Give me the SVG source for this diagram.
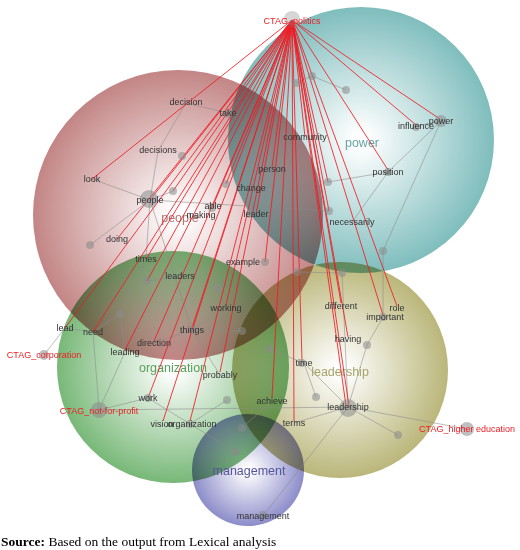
<svg xmlns="http://www.w3.org/2000/svg" width="520" height="550" viewBox="0 0 520 550">
<defs>
<radialGradient id="gPow"><stop offset="0.05" stop-color="#ffffff"/><stop offset="1" stop-color="#7fbdbd"/></radialGradient>
<radialGradient id="gPeo"><stop offset="0.05" stop-color="#ffffff"/><stop offset="1" stop-color="#c38585"/></radialGradient>
<radialGradient id="gOrg"><stop offset="0.05" stop-color="#ffffff"/><stop offset="1" stop-color="#78b878"/></radialGradient>
<radialGradient id="gLea"><stop offset="0.05" stop-color="#ffffff"/><stop offset="1" stop-color="#bab67a"/></radialGradient>
<radialGradient id="gMan"><stop offset="0.05" stop-color="#ffffff"/><stop offset="1" stop-color="#8c8cca"/></radialGradient>
<style>
.cl{mix-blend-mode:multiply}
.g line{stroke:#8a8a8a;stroke-width:0.8;stroke-opacity:0.7}
.r line{stroke:#ee1c24;stroke-width:1;stroke-opacity:0.85}
.d{fill:#8a8a8a;fill-opacity:0.55}
.t{font-family:"Liberation Sans",Arial,sans-serif;font-size:9px;fill:#333;text-anchor:middle}
.c{font-family:"Liberation Sans",Arial,sans-serif;font-size:9px;fill:#ee1c24;text-anchor:middle}
.k{font-family:"Liberation Sans",Arial,sans-serif;font-size:12.5px;text-anchor:middle}
</style>
</defs>
<rect width="520" height="550" fill="#fff"/>
<g id="clusters">
<circle class="cl" cx="361" cy="140" r="133" fill="url(#gPow)"/>
<circle class="cl" cx="178" cy="215" r="145" fill="url(#gPeo)"/>
<circle class="cl" cx="173" cy="367" r="116" fill="url(#gOrg)"/>
<circle class="cl" cx="340" cy="370" r="108" fill="url(#gLea)"/>
<circle class="cl" cx="248" cy="470" r="56" fill="url(#gMan)"/>
<text class="k" x="362" y="147" fill="#6aa3a6">power</text>
<text class="k" x="180" y="222" fill="#b07070">people</text>
<text class="k" x="173" y="372" fill="#5a9e5a">organization</text>
<text class="k" x="340" y="376" fill="#a8a468">leadership</text>
<text class="k" x="249" y="475" fill="#55559a">management</text>
</g>
<g id="connectors">
<g class="g">
<line x1="186" y1="103" x2="228" y2="113"/>
<line x1="186" y1="103" x2="158" y2="151"/>
<line x1="158" y1="151" x2="150" y2="200"/>
<line x1="92" y1="179" x2="150" y2="200"/>
<line x1="150" y1="200" x2="173" y2="191"/>
<line x1="150" y1="200" x2="90" y2="245"/>
<line x1="150" y1="200" x2="146" y2="259"/>
<line x1="146" y1="259" x2="120" y2="314"/>
<line x1="150" y1="200" x2="192" y2="330"/>
<line x1="150" y1="200" x2="329" y2="211"/>
<line x1="147" y1="281" x2="180" y2="277"/>
<line x1="120" y1="314" x2="93" y2="332"/>
<line x1="120" y1="314" x2="125" y2="352"/>
<line x1="93" y1="332" x2="65" y2="328"/>
<line x1="44" y1="355" x2="65" y2="328"/>
<line x1="93" y1="332" x2="99" y2="410"/>
<line x1="125" y1="352" x2="99" y2="410"/>
<line x1="99" y1="410" x2="148" y2="398"/>
<line x1="99" y1="410" x2="348" y2="407"/>
<line x1="148" y1="398" x2="190" y2="424"/>
<line x1="190" y1="424" x2="227" y2="400"/>
<line x1="190" y1="424" x2="236" y2="452"/>
<line x1="192" y1="330" x2="154" y2="343"/>
<line x1="192" y1="330" x2="242" y2="331"/>
<line x1="192" y1="330" x2="226" y2="308"/>
<line x1="192" y1="330" x2="220" y2="375"/>
<line x1="272" y1="401" x2="242" y2="428"/>
<line x1="269" y1="349" x2="304" y2="363"/>
<line x1="304" y1="363" x2="348" y2="407"/>
<line x1="304" y1="363" x2="316" y2="397"/>
<line x1="348" y1="407" x2="294" y2="423"/>
<line x1="348" y1="407" x2="263" y2="516"/>
<line x1="348" y1="407" x2="398" y2="435"/>
<line x1="348" y1="407" x2="467" y2="429"/>
<line x1="348" y1="407" x2="367" y2="345"/>
<line x1="367" y1="345" x2="383" y2="317"/>
<line x1="383" y1="317" x2="383" y2="251"/>
<line x1="348" y1="407" x2="342" y2="273"/>
<line x1="297" y1="272" x2="342" y2="273"/>
<line x1="388" y1="172" x2="352" y2="222"/>
<line x1="328" y1="182" x2="388" y2="172"/>
<line x1="441" y1="121" x2="388" y2="172"/>
<line x1="441" y1="121" x2="383" y2="251"/>
<line x1="416" y1="126" x2="441" y2="121"/>
<line x1="296" y1="83" x2="312" y2="76"/>
<line x1="312" y1="76" x2="346" y2="90"/>
</g>
<g class="r">
<line x1="292" y1="20" x2="92" y2="179"/>
<line x1="292" y1="20" x2="150" y2="200"/>
<line x1="292" y1="20" x2="173" y2="191"/>
<line x1="292" y1="20" x2="117" y2="239"/>
<line x1="292" y1="20" x2="146" y2="259"/>
<line x1="292" y1="20" x2="147" y2="281"/>
<line x1="292" y1="20" x2="93" y2="332"/>
<line x1="292" y1="20" x2="65" y2="328"/>
<line x1="292" y1="20" x2="125" y2="350"/>
<line x1="292" y1="20" x2="154" y2="341"/>
<line x1="292" y1="20" x2="148" y2="398"/>
<line x1="292" y1="20" x2="163" y2="421"/>
<line x1="292" y1="20" x2="190" y2="421"/>
<line x1="292" y1="20" x2="220" y2="372"/>
<line x1="292" y1="20" x2="226" y2="305"/>
<line x1="292" y1="20" x2="212" y2="208"/>
<line x1="292" y1="20" x2="226" y2="184"/>
<line x1="292" y1="20" x2="256" y2="214"/>
<line x1="292" y1="20" x2="265" y2="262"/>
<line x1="292" y1="20" x2="272" y2="398"/>
<line x1="292" y1="20" x2="294" y2="421"/>
<line x1="292" y1="20" x2="302" y2="361"/>
<line x1="292" y1="20" x2="341" y2="303"/>
<line x1="292" y1="20" x2="346" y2="406"/>
<line x1="292" y1="20" x2="349" y2="406"/>
<line x1="292" y1="20" x2="383" y2="315"/>
<line x1="292" y1="20" x2="397" y2="306"/>
<line x1="292" y1="20" x2="329" y2="211"/>
<line x1="292" y1="20" x2="328" y2="182"/>
<line x1="292" y1="20" x2="388" y2="170"/>
<line x1="292" y1="20" x2="416" y2="125"/>
<line x1="292" y1="20" x2="440" y2="119"/>
<line x1="292" y1="20" x2="305" y2="137"/>
<line x1="292" y1="20" x2="272" y2="167"/>
<line x1="292" y1="20" x2="192" y2="328"/>
<line x1="292" y1="20" x2="348" y2="337"/>
</g>
</g>
<g id="dots">
<circle class="d" cx="182" cy="156" r="4"/>
<circle class="d" cx="173" cy="191" r="4"/>
<circle class="d" cx="90" cy="245" r="4"/>
<circle class="d" cx="147" cy="281" r="4"/>
<circle class="d" cx="120" cy="314" r="4"/>
<circle class="d" cx="218" cy="288" r="4"/>
<circle class="d" cx="242" cy="331" r="4"/>
<circle class="d" cx="269" cy="349" r="4"/>
<circle class="d" cx="227" cy="400" r="4"/>
<circle class="d" cx="242" cy="428" r="4"/>
<circle class="d" cx="236" cy="452" r="4"/>
<circle class="d" cx="316" cy="397" r="4"/>
<circle class="d" cx="367" cy="345" r="4"/>
<circle class="d" cx="383" cy="251" r="4"/>
<circle class="d" cx="297" cy="272" r="4"/>
<circle class="d" cx="342" cy="273" r="4"/>
<circle class="d" cx="328" cy="182" r="4"/>
<circle class="d" cx="329" cy="211" r="4"/>
<circle class="d" cx="265" cy="262" r="4"/>
<circle class="d" cx="226" cy="184" r="4"/>
<circle class="d" cx="296" cy="83" r="4"/>
<circle class="d" cx="312" cy="76" r="4"/>
<circle class="d" cx="346" cy="90" r="4"/>
<circle class="d" cx="398" cy="435" r="4"/>
</g>
<g id="n-ctag-politics"><circle class="d" cx="292" cy="19" r="8" style="fill-opacity:0.35"/><text class="c" x="292" y="24">CTAG_politics</text></g>
<g id="n-ctag-corporation"><circle class="d" cx="44" cy="355" r="5"/><text class="c" x="44" y="358">CTAG_corporation</text></g>
<g id="n-ctag-nfp"><circle class="d" cx="99" cy="410" r="8"/><text class="c" x="99" y="414">CTAG_not-for-profit</text></g>
<g id="n-ctag-higher"><circle class="d" cx="467" cy="429" r="7"/><text class="c" x="467" y="432">CTAG_higher education</text></g>
<g id="n-people"><circle class="d" cx="149" cy="199" r="9"/><text class="t" x="150" y="203">people</text></g>
<g id="n-leadership"><circle class="d" cx="348" cy="408" r="9"/><text class="t" x="348" y="410">leadership</text></g>
<g id="n-power"><circle class="d" cx="441" cy="121" r="6"/><text class="t" x="441" y="124">power</text></g>
<g id="n-decision"><text class="t" x="186" y="105">decision</text></g>
<g id="n-take"><circle class="d" cx="228" cy="114" r="4"/><text class="t" x="228" y="116">take</text></g>
<g id="n-decisions"><text class="t" x="158" y="153">decisions</text></g>
<g id="n-look"><text class="t" x="92" y="182">look</text></g>
<g id="n-able"><circle class="d" cx="212" cy="208" r="4"/><text class="t" x="213" y="209">able</text></g>
<g id="n-making"><text class="t" x="201" y="218">making</text></g>
<g id="n-change"><text class="t" x="251" y="191">change</text></g>
<g id="n-person"><text class="t" x="272" y="172">person</text></g>
<g id="n-community"><text class="t" x="305" y="140">community</text></g>
<g id="n-leader"><circle class="d" cx="250" cy="214" r="4"/><text class="t" x="256" y="217">leader</text></g>
<g id="n-example"><text class="t" x="243" y="265">example</text></g>
<g id="n-doing"><text class="t" x="117" y="242">doing</text></g>
<g id="n-times"><text class="t" x="146" y="262">times</text></g>
<g id="n-leaders"><text class="t" x="180" y="279">leaders</text></g>
<g id="n-working"><text class="t" x="226" y="311">working</text></g>
<g id="n-things"><circle class="d" cx="192" cy="330" r="4"/><text class="t" x="192" y="333">things</text></g>
<g id="n-direction"><text class="t" x="154" y="346">direction</text></g>
<g id="n-need"><text class="t" x="93" y="335">need</text></g>
<g id="n-lead"><text class="t" x="65" y="331">lead</text></g>
<g id="n-leading"><text class="t" x="125" y="355">leading</text></g>
<g id="n-probably"><text class="t" x="220" y="378">probably</text></g>
<g id="n-work"><circle class="d" cx="148" cy="398" r="4"/><text class="t" x="148" y="401">work</text></g>
<g id="n-vision"><text class="t" x="162" y="427">vision</text></g>
<g id="n-organization"><circle class="d" cx="190" cy="424" r="4"/><text class="t" x="192" y="427">organization</text></g>
<g id="n-achieve"><text class="t" x="272" y="404">achieve</text></g>
<g id="n-terms"><text class="t" x="294" y="426">terms</text></g>
<g id="n-time"><circle class="d" cx="302" cy="363" r="4"/><text class="t" x="304" y="366">time</text></g>
<g id="n-having"><text class="t" x="348" y="342">having</text></g>
<g id="n-different"><text class="t" x="341" y="309">different</text></g>
<g id="n-role"><text class="t" x="397" y="311">role</text></g>
<g id="n-important"><circle class="d" cx="383" cy="317" r="4"/><text class="t" x="385" y="320">important</text></g>
<g id="n-necessarily"><text class="t" x="352" y="225">necessarily</text></g>
<g id="n-position"><circle class="d" cx="388" cy="172" r="4"/><text class="t" x="388" y="175">position</text></g>
<g id="n-influence"><circle class="d" cx="416" cy="127" r="4"/><text class="t" x="416" y="129">influence</text></g>
<g id="n-management"><circle class="d" cx="263" cy="515" r="4"/><text class="t" x="263" y="519">management</text></g>
<text x="1" y="546" font-family="'Liberation Serif','Times New Roman',serif" font-size="13.5" fill="#000"><tspan font-weight="bold">Source:</tspan> Based on the output from Lexical analysis</text>
</svg>
